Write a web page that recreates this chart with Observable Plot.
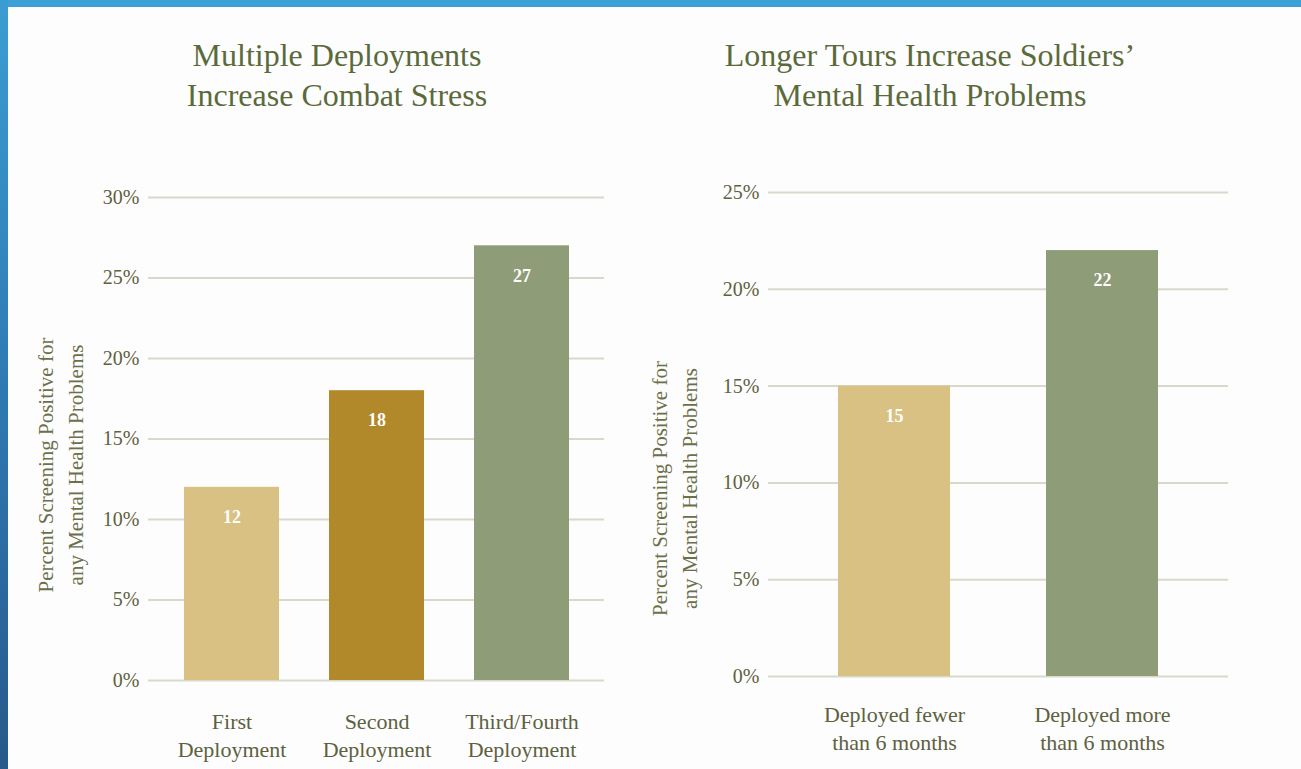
<!DOCTYPE html>
<html>
<head>
<meta charset="utf-8">
<script src="https://cdn.jsdelivr.net/npm/d3@7"></script>
<script src="https://cdn.jsdelivr.net/npm/@observablehq/plot@0.6"></script>
<style>
  html, body { margin: 0; padding: 0; background: #ffffff; }
  #page { position: relative; width: 1301px; height: 769px; overflow: hidden; background: #fdfdfd; }
  #topbar { position: absolute; left: 0; top: 0; width: 1301px; height: 7px; background: #3c9fd5; }
  #leftbar { position: absolute; left: 0; top: 0; width: 8px; height: 769px; background: linear-gradient(#3b9dd3, #2f7ab3 50%, #27598a); }
  .title { position: absolute; top: 35px; width: 600px; text-align: center; font-family: "Liberation Serif", serif; font-size: 32px; line-height: 40px; color: #5b6a3a; }
  .chart { position: absolute; top: 150px; }
</style>
</head>
<body>
<div id="page">
  <div id="topbar"></div>
  <div id="leftbar"></div>
  <div class="title" id="t1" style="left:37px;"></div>
  <div class="title" id="t2" style="left:630px;"></div>
  <div class="chart" id="c1" style="left:0px;"></div>
  <div class="chart" id="c2" style="left:640px;"></div>
</div>
<script>
// ---- data ----
const title1 = ["Multiple Deployments", "Increase Combat Stress"];
const title2 = ["Longer Tours Increase Soldiers’", "Mental Health Problems"];
const yLabel = "Percent Screening Positive for\nany Mental Health Problems";

const cats1 = ["First\nDeployment", "Second\nDeployment", "Third/Fourth\nDeployment"];
const vals1 = [12, 18, 27];
const colors1 = ["#d8c182", "#b1882a", "#8e9c77"];
const ticks1 = [0, 5, 10, 15, 20, 25, 30];

const cats2 = ["Deployed fewer\nthan 6 months", "Deployed more\nthan 6 months"];
const vals2 = [15, 22];
const colors2 = ["#d8c182", "#8e9c77"];
const ticks2 = [0, 5, 10, 15, 20, 25];

document.getElementById("t1").innerHTML = title1.join("<br>");
document.getElementById("t2").innerHTML = title2.join("<br>");

const font = "Liberation Serif";
const gridColor = "#d7dacb";
const textColor = "#5d6140";

function makeChart({cats, vals, colors, ticks, width, height, margins, padInner, padOuter, labelDx, labelDy, catPad}) {
  const data = cats.map((c, i) => ({cat: c, v: vals[i]}));
  return Plot.plot({
    width, height,
    marginTop: margins[0], marginRight: margins[1], marginBottom: margins[2], marginLeft: margins[3],
    style: {fontFamily: font, background: "transparent", color: textColor},
    x: {domain: cats, paddingInner: padInner, paddingOuter: padOuter, label: null},
    y: {domain: [0, ticks[ticks.length - 1]], label: null},
    color: {domain: cats, range: colors},
    marks: [
      Plot.ruleY(ticks, {stroke: gridColor, strokeWidth: 2}),
      Plot.barY(data, {x: "cat", y: "v", fill: "cat"}),
      Plot.text(data, {x: "cat", y: "v", text: d => String(d.v), fill: "white", fontSize: 18, fontWeight: "bold", dy: 30}),
      Plot.axisY({ticks, tickSize: 0, tickPadding: 9, tickFormat: d => d + "%", fontSize: 20, fill: textColor, label: null}),
      Plot.axisX({tickSize: 0, tickPadding: catPad, fontSize: 22, lineHeight: 1.27, fill: textColor, label: null}),
      Plot.text([yLabel], {frameAnchor: "left", text: d => d, rotate: -90, dx: labelDx, dy: labelDy, fontSize: 21, lineHeight: 1.43, fill: "#6b7049", textAnchor: "middle"})
    ]
  });
}

document.getElementById("c1").append(makeChart({
  cats: cats1, vals: vals1, colors: colors1, ticks: ticks1,
  width: 640, height: 619, margins: [47, 36, 89, 148],
  padInner: 0.345, padOuter: 0.241, labelDx: -90, labelDy: 26, catPad: 29
}));

document.getElementById("c2").append(makeChart({
  cats: cats2, vals: vals2, colors: colors2, ticks: ticks2,
  width: 661, height: 619, margins: [42, 73, 93, 128],
  padInner: 0.46, padOuter: 0.333, labelDx: -96, labelDy: 54, catPad: 26
}));
</script>
</body>
</html>
